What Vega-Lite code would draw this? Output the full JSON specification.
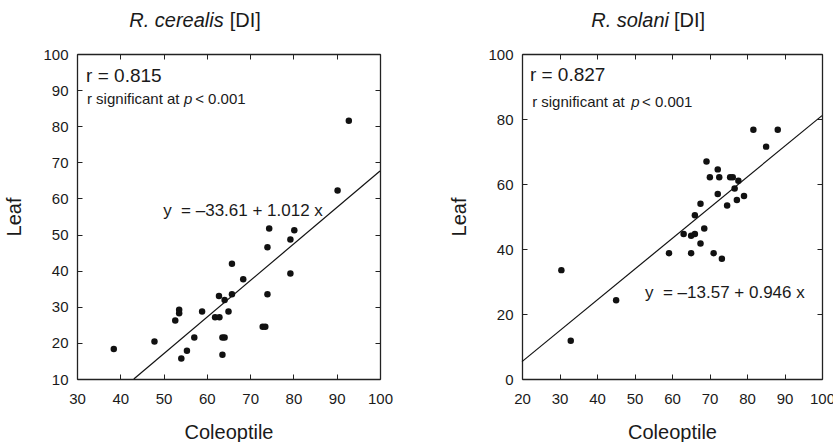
{
  "$schema": "https://vega.github.io/schema/vega-lite/v6.json",
  "padding": {"left": 4, "top": 11, "right": 0, "bottom": 0},
  "spacing": 56,
  "background": "white",
  "datasets": {
    "cerealis": [
      {"coleoptile": 38.5, "leaf": 18.3}, {"coleoptile": 47.9, "leaf": 20.4}, {"coleoptile": 52.7, "leaf": 26.2},
      {"coleoptile": 53.6, "leaf": 29.2}, {"coleoptile": 53.6, "leaf": 28.2}, {"coleoptile": 54.1, "leaf": 15.7},
      {"coleoptile": 55.4, "leaf": 17.8}, {"coleoptile": 57.1, "leaf": 21.5}, {"coleoptile": 58.9, "leaf": 28.7},
      {"coleoptile": 61.9, "leaf": 27.1}, {"coleoptile": 62.9, "leaf": 27.1}, {"coleoptile": 62.8, "leaf": 33.0},
      {"coleoptile": 64.1, "leaf": 31.9}, {"coleoptile": 63.6, "leaf": 21.5}, {"coleoptile": 64.1, "leaf": 21.5},
      {"coleoptile": 63.6, "leaf": 16.7}, {"coleoptile": 65.0, "leaf": 28.7}, {"coleoptile": 65.8, "leaf": 33.5},
      {"coleoptile": 65.8, "leaf": 41.9}, {"coleoptile": 68.4, "leaf": 37.6}, {"coleoptile": 72.9, "leaf": 24.5},
      {"coleoptile": 73.5, "leaf": 24.5}, {"coleoptile": 74.0, "leaf": 33.5}, {"coleoptile": 79.3, "leaf": 39.2},
      {"coleoptile": 92.8, "leaf": 81.5}, {"coleoptile": 90.2, "leaf": 62.2}, {"coleoptile": 74.4, "leaf": 51.7},
      {"coleoptile": 80.2, "leaf": 51.2}, {"coleoptile": 79.3, "leaf": 48.6}, {"coleoptile": 74.0, "leaf": 46.5}
    ],
    "solani": [
      {"coleoptile": 30.5, "leaf": 33.5}, {"coleoptile": 33.0, "leaf": 11.8}, {"coleoptile": 45.1, "leaf": 24.2},
      {"coleoptile": 59.2, "leaf": 38.7}, {"coleoptile": 63.1, "leaf": 44.6}, {"coleoptile": 65.1, "leaf": 44.1},
      {"coleoptile": 66.1, "leaf": 44.6}, {"coleoptile": 65.1, "leaf": 38.7}, {"coleoptile": 66.1, "leaf": 50.4},
      {"coleoptile": 67.6, "leaf": 53.9}, {"coleoptile": 67.6, "leaf": 41.7}, {"coleoptile": 68.6, "leaf": 46.3},
      {"coleoptile": 69.2, "leaf": 66.9}, {"coleoptile": 70.1, "leaf": 62.1}, {"coleoptile": 71.1, "leaf": 38.7},
      {"coleoptile": 72.2, "leaf": 64.5}, {"coleoptile": 72.2, "leaf": 56.9}, {"coleoptile": 72.6, "leaf": 62.1},
      {"coleoptile": 73.3, "leaf": 37.0}, {"coleoptile": 74.7, "leaf": 53.4}, {"coleoptile": 75.5, "leaf": 62.1},
      {"coleoptile": 76.2, "leaf": 62.1}, {"coleoptile": 76.7, "leaf": 58.6}, {"coleoptile": 77.3, "leaf": 55.1},
      {"coleoptile": 77.7, "leaf": 61.0}, {"coleoptile": 79.2, "leaf": 56.3}, {"coleoptile": 81.7, "leaf": 76.7},
      {"coleoptile": 85.1, "leaf": 71.5}, {"coleoptile": 88.2, "leaf": 76.7}
    ],
    "cerealisFit": [{"coleoptile": 43.13, "leaf": 10}, {"coleoptile": 100, "leaf": 67.59}],
    "solaniFit": [{"coleoptile": 20, "leaf": 5.35}, {"coleoptile": 100, "leaf": 81.03}],
    "one": [{"n": 1}]
  },
  "config": {
    "font": "Liberation Sans",
    "view": {"stroke": null},
    "axis": {
      "grid": false,
      "domainColor": "#222",
      "domainWidth": 1.3,
      "tickColor": "#222",
      "tickWidth": 1,
      "tickSize": -5,
      "labelFont": "Liberation Sans",
      "labelFontSize": 15,
      "labelColor": "#1a1a1a",
      "labelFlush": false,
      "labelOverlap": false,
      "titleFont": "Liberation Sans",
      "titleFontSize": 20,
      "titleFontWeight": "normal",
      "titleColor": "#1a1a1a"
    },
    "axisX": {"labelPadding": 17, "titlePadding": 16},
    "axisY": {"labelPadding": 14, "titlePadding": 18},
    "text": {"font": "Liberation Sans", "color": "#1a1a1a"}
  },
  "hconcat": [
    {
      "width": 303,
      "height": 325,
      "resolve": {"axis": {"x": "independent", "y": "independent"}},
      "layer": [
        {
          "data": {"name": "cerealis"},
          "mark": {"type": "circle", "size": 42, "color": "#111", "opacity": 1},
          "encoding": {
            "x": {"field": "coleoptile", "type": "quantitative", "scale": {"domain": [30, 100], "nice": false, "zero": false},
                  "axis": {"title": "Coleoptile", "values": [30, 40, 50, 60, 70, 80, 90, 100]}},
            "y": {"field": "leaf", "type": "quantitative", "scale": {"domain": [10, 100], "nice": false, "zero": false},
                  "axis": {"title": "Leaf", "values": [10, 20, 30, 40, 50, 60, 70, 80, 90, 100]}}
          }
        },
        {
          "data": {"name": "cerealisFit"},
          "mark": {"type": "line", "color": "#111", "strokeWidth": 1.2},
          "encoding": {
            "x": {"field": "coleoptile", "type": "quantitative",
                  "axis": {"orient": "top", "labels": false, "title": null, "values": [30, 40, 50, 60, 70, 80, 90, 100]}},
            "y": {"field": "leaf", "type": "quantitative",
                  "axis": {"orient": "right", "labels": false, "title": null, "values": [10, 20, 30, 40, 50, 60, 70, 80, 90, 100]}}
          }
        },
        {
          "data": {"name": "one"},
          "mark": {"type": "text", "align": "right", "baseline": "middle", "fontSize": 20, "fontStyle": "italic", "clip": false},
          "encoding": {"x": {"datum": 63.9, "type": "quantitative", "axis": null}, "y": {"datum": 109.1, "type": "quantitative", "axis": null}, "text": {"value": "R. cerealis"}}
        },
        {
          "data": {"name": "one"},
          "mark": {"type": "text", "align": "left", "baseline": "middle", "fontSize": 20, "clip": false},
          "encoding": {"x": {"datum": 65.3, "type": "quantitative", "axis": null}, "y": {"datum": 109.1, "type": "quantitative", "axis": null}, "text": {"value": "[DI]"}}
        },
        {
          "data": {"name": "one"},
          "mark": {"type": "text", "align": "left", "baseline": "middle", "fontSize": 19},
          "encoding": {"x": {"datum": 32.1, "type": "quantitative", "axis": null}, "y": {"datum": 93.9, "type": "quantitative", "axis": null}, "text": {"value": "r = 0.815"}}
        },
        {
          "data": {"name": "one"},
          "mark": {"type": "text", "align": "left", "baseline": "middle", "fontSize": 15},
          "encoding": {"x": {"datum": 32.3, "type": "quantitative", "axis": null}, "y": {"datum": 87.5, "type": "quantitative", "axis": null}, "text": {"value": "r significant at"}}
        },
        {
          "data": {"name": "one"},
          "mark": {"type": "text", "align": "left", "baseline": "middle", "fontSize": 15, "fontStyle": "italic"},
          "encoding": {"x": {"datum": 54.7, "type": "quantitative", "axis": null}, "y": {"datum": 87.5, "type": "quantitative", "axis": null}, "text": {"value": "p"}}
        },
        {
          "data": {"name": "one"},
          "mark": {"type": "text", "align": "left", "baseline": "middle", "fontSize": 15},
          "encoding": {"x": {"datum": 57.3, "type": "quantitative", "axis": null}, "y": {"datum": 87.5, "type": "quantitative", "axis": null}, "text": {"value": "< 0.001"}}
        },
        {
          "data": {"name": "one"},
          "mark": {"type": "text", "align": "left", "baseline": "middle", "fontSize": 17},
          "encoding": {"x": {"datum": 49.9, "type": "quantitative", "axis": null}, "y": {"datum": 56.5, "type": "quantitative", "axis": null}, "text": {"value": "y \u00a0= \u201333.61 + 1.012 x"}}
        }
      ]
    },
    {
      "width": 300,
      "height": 325,
      "resolve": {"axis": {"x": "independent", "y": "independent"}},
      "layer": [
        {
          "data": {"name": "solani"},
          "mark": {"type": "circle", "size": 42, "color": "#111", "opacity": 1},
          "encoding": {
            "x": {"field": "coleoptile", "type": "quantitative", "scale": {"domain": [20, 100], "nice": false, "zero": false},
                  "axis": {"title": "Coleoptile", "values": [20, 30, 40, 50, 60, 70, 80, 90, 100]}},
            "y": {"field": "leaf", "type": "quantitative", "scale": {"domain": [0, 100], "nice": false},
                  "axis": {"title": "Leaf", "values": [0, 20, 40, 60, 80, 100]}}
          }
        },
        {
          "data": {"name": "solaniFit"},
          "mark": {"type": "line", "color": "#111", "strokeWidth": 1.2},
          "encoding": {
            "x": {"field": "coleoptile", "type": "quantitative",
                  "axis": {"orient": "top", "labels": false, "title": null, "values": [20, 30, 40, 50, 60, 70, 80, 90, 100]}},
            "y": {"field": "leaf", "type": "quantitative",
                  "axis": {"orient": "right", "labels": false, "title": null, "values": [0, 20, 40, 60, 80, 100]}}
          }
        },
        {
          "data": {"name": "one"},
          "mark": {"type": "text", "align": "right", "baseline": "middle", "fontSize": 20, "fontStyle": "italic", "clip": false},
          "encoding": {"x": {"datum": 59.2, "type": "quantitative", "axis": null}, "y": {"datum": 110.15, "type": "quantitative", "axis": null}, "text": {"value": "R. solani"}}
        },
        {
          "data": {"name": "one"},
          "mark": {"type": "text", "align": "left", "baseline": "middle", "fontSize": 20, "clip": false},
          "encoding": {"x": {"datum": 60.5, "type": "quantitative", "axis": null}, "y": {"datum": 110.15, "type": "quantitative", "axis": null}, "text": {"value": "[DI]"}}
        },
        {
          "data": {"name": "one"},
          "mark": {"type": "text", "align": "left", "baseline": "middle", "fontSize": 19},
          "encoding": {"x": {"datum": 22.1, "type": "quantitative", "axis": null}, "y": {"datum": 93.5, "type": "quantitative", "axis": null}, "text": {"value": "r = 0.827"}}
        },
        {
          "data": {"name": "one"},
          "mark": {"type": "text", "align": "left", "baseline": "middle", "fontSize": 15},
          "encoding": {"x": {"datum": 22.7, "type": "quantitative", "axis": null}, "y": {"datum": 85.1, "type": "quantitative", "axis": null}, "text": {"value": "r significant at"}}
        },
        {
          "data": {"name": "one"},
          "mark": {"type": "text", "align": "left", "baseline": "middle", "fontSize": 15, "fontStyle": "italic"},
          "encoding": {"x": {"datum": 49.1, "type": "quantitative", "axis": null}, "y": {"datum": 85.1, "type": "quantitative", "axis": null}, "text": {"value": "p"}}
        },
        {
          "data": {"name": "one"},
          "mark": {"type": "text", "align": "left", "baseline": "middle", "fontSize": 15},
          "encoding": {"x": {"datum": 52.0, "type": "quantitative", "axis": null}, "y": {"datum": 85.1, "type": "quantitative", "axis": null}, "text": {"value": "< 0.001"}}
        },
        {
          "data": {"name": "one"},
          "mark": {"type": "text", "align": "left", "baseline": "middle", "fontSize": 17},
          "encoding": {"x": {"datum": 52.8, "type": "quantitative", "axis": null}, "y": {"datum": 26.6, "type": "quantitative", "axis": null}, "text": {"value": "y \u00a0= \u201313.57 + 0.946 x"}}
        }
      ]
    }
  ]
}
